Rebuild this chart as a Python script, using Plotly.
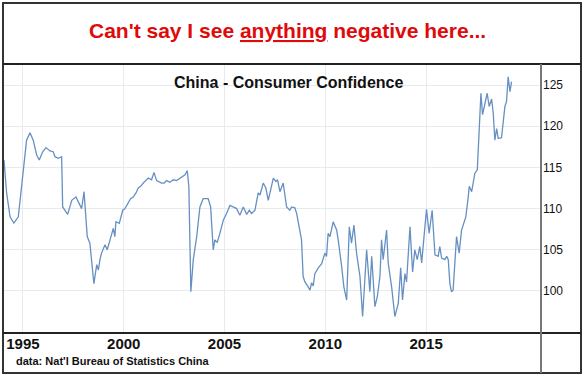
import plotly.graph_objects as go

# ---- data ----
years = [
    1994.06, 1994.19, 1994.36, 1994.55, 1994.77, 1995.01, 1995.18, 1995.35, 1995.51, 1995.68,
    1995.81, 1995.98, 1996.14, 1996.34, 1996.50, 1996.59, 1996.75, 1996.92, 1996.97, 1997.22,
    1997.42, 1997.63, 1997.91, 1998.03, 1998.19, 1998.32, 1998.52, 1998.66, 1998.74, 1998.82,
    1998.90, 1999.07, 1999.18, 1999.32, 1999.48, 1999.56, 1999.61, 1999.78, 1999.95, 2000.06,
    2000.22, 2000.34, 2000.47, 2000.61, 2000.72, 2000.84, 2000.97, 2001.10, 2001.22, 2001.38,
    2001.50, 2001.63, 2001.76, 2001.88, 2002.00, 2002.13, 2002.29, 2002.46, 2002.62, 2002.79,
    2003.04, 2003.15, 2003.23, 2003.33, 2003.45, 2003.62, 2003.78, 2003.94, 2004.19, 2004.31,
    2004.44, 2004.52, 2004.64, 2004.77, 2004.94, 2005.10, 2005.27, 2005.43, 2005.60, 2005.76,
    2005.93, 2006.10, 2006.23, 2006.34, 2006.51, 2006.67, 2006.76, 2006.92, 2007.05, 2007.17,
    2007.29, 2007.42, 2007.55, 2007.63, 2007.75, 2007.91, 2008.08, 2008.24, 2008.33, 2008.49,
    2008.58, 2008.74, 2008.82, 2008.90, 2008.99, 2009.15, 2009.24, 2009.32, 2009.40, 2009.48,
    2009.65, 2009.82, 2009.98, 2010.06, 2010.14, 2010.23, 2010.39, 2010.56, 2010.64, 2010.81,
    2010.92, 2011.06, 2011.19, 2011.30, 2011.42, 2011.55, 2011.72, 2011.85, 2011.96, 2012.05,
    2012.21, 2012.30, 2012.46, 2012.58, 2012.71, 2012.79, 2012.87, 2013.04, 2013.12, 2013.29,
    2013.45, 2013.62, 2013.74, 2013.83, 2013.95, 2014.03, 2014.20, 2014.33, 2014.44, 2014.56,
    2014.69, 2014.78, 2014.86, 2015.02, 2015.15, 2015.30, 2015.44, 2015.60, 2015.68, 2015.77,
    2015.93, 2016.02, 2016.10, 2016.18, 2016.26, 2016.34, 2016.51, 2016.64, 2016.76, 2016.92,
    2016.97, 2017.09, 2017.14, 2017.26, 2017.34, 2017.42, 2017.54, 2017.59, 2017.67, 2017.72,
    2017.80, 2017.92, 2018.03, 2018.13, 2018.25, 2018.33, 2018.41, 2018.50, 2018.58, 2018.74,
    2018.82, 2018.91, 2018.99, 2019.07, 2019.16, 2019.24,
]
confidence = [
    115.9, 111.9, 109.0, 108.25, 109.0, 114.7, 118.3, 119.2, 118.3, 116.5,
    115.9, 116.9, 117.4, 117.0, 116.9, 116.3, 116.1, 116.3, 110.2, 109.3,
    111.0, 111.4, 110.0, 112.05, 106.6, 105.8, 100.9, 103.2, 102.55, 103.8,
    104.6, 105.6, 105.0, 106.2, 107.6, 106.6, 108.4, 108.2, 109.8, 110.0,
    110.6, 111.2, 111.4, 111.9, 112.5, 112.7, 113.1, 113.4, 113.7, 113.5,
    114.4, 113.4, 113.2, 113.1, 113.1, 113.4, 113.2, 113.5, 113.4, 113.7,
    114.1, 114.6, 112.7, 99.9, 103.8, 106.6, 110.2, 111.2, 111.2, 110.2,
    105.0, 106.2, 105.9, 107.0, 108.6, 109.4, 110.4, 110.2, 110.0, 109.2,
    110.2, 109.3, 109.8, 109.4, 109.8, 111.9, 111.65, 113.1, 112.5, 111.0,
    112.2, 113.7, 113.3, 113.5, 112.05, 113.1, 110.2, 109.8, 110.2, 110.1,
    109.4, 107.0, 106.2, 101.75, 101.1, 100.5, 100.1, 101.0, 100.6, 102.1,
    102.8, 103.3, 104.6, 104.2, 107.0, 106.6, 108.4, 107.4, 106.2, 103.0,
    100.5, 98.9, 107.8, 105.8, 108.0, 104.6, 101.75, 96.9, 100.9, 105.0,
    99.9, 104.2, 98.1, 99.3, 101.75, 106.2, 103.8, 107.4, 103.4, 100.5,
    96.9, 98.5, 102.8, 98.9, 102.1, 101.1, 107.8, 102.3, 105.0, 103.8,
    105.4, 103.4, 105.6, 109.9, 107.0, 109.8, 104.4, 104.2, 105.4, 104.0,
    103.8, 104.2, 103.8, 100.9, 99.9, 100.1, 106.6, 104.6, 107.4, 108.6,
    109.0, 111.4, 112.7, 112.05, 113.5, 114.3, 114.7, 117.9, 122.4, 124.0,
    121.4, 122.6, 124.0, 122.4, 123.3, 121.6, 118.3, 119.7, 118.5, 118.6,
    120.8, 122.4, 123.0, 126.0, 124.2, 125.4,
]
x_ticks = [1995, 2000, 2005, 2010, 2015]
x_tick_labels = ["1995", "2000", "2005", "2010", "2015"]
y_ticks = [100, 105, 110, 115, 120, 125]
y_tick_labels = ["100", "105", "110", "115", "120", "125"]

headline = "Can't say I see <u>anything</u> negative here..."
chart_title = "China - Consumer Confidence"
source = "data: Nat'l Bureau of Statistics China"

# ---- layout geometry (pixels) ----
W, H = 585, 376
L, R, T, B = 4, 44, 64, 43
PW, PH = W - L - R, H - T - B


def xp(px):
    return (px - L) / PW


def yp(py):
    return (H - B - py) / PH


FONT = "Arial, Liberation Sans, sans-serif"

fig = go.Figure()
fig.add_trace(go.Scatter(
    x=years, y=confidence, mode="lines",
    line=dict(color="#6690c2", width=1.3),
    showlegend=False, hoverinfo="skip",
))

grid = "#e7ebef"
fig.update_layout(
    width=W, height=H, autosize=False,
    margin=dict(l=L, r=R, t=T, b=B, pad=0),
    paper_bgcolor="white", plot_bgcolor="white",
    font=dict(family=FONT, color="#111"),
    xaxis=dict(
        range=[1994.06, 2020.7], tickvals=x_ticks, ticktext=x_tick_labels,
        tickfont=dict(family=FONT, size=15, color="#111", weight="bold"),
        showgrid=True, gridcolor=grid, gridwidth=1, zeroline=False,
        showline=False, ticks="", fixedrange=True,
    ),
    yaxis=dict(
        range=[94.9, 127.55], tickvals=y_ticks, ticktext=y_tick_labels, side="right",
        tickfont=dict(family=FONT, size=12, color="#111"),
        showgrid=True, gridcolor=grid, gridwidth=1, zeroline=False,
        showline=False, ticks="", ticklabelstandoff=1, fixedrange=True,
    ),
    shapes=[
        # outer frame
        dict(type="rect", xref="paper", yref="paper",
             x0=xp(3), x1=xp(581), y0=yp(373), y1=yp(3),
             line=dict(color="#333", width=2), layer="above"),
        # separator below headline
        dict(type="line", xref="paper", yref="paper",
             x0=xp(3), x1=xp(581), y0=yp(64), y1=yp(64),
             line=dict(color="#222", width=2), layer="above"),
        # x-axis baseline
        dict(type="line", xref="paper", yref="paper",
             x0=xp(3), x1=xp(581), y0=yp(333), y1=yp(333),
             line=dict(color="#222", width=2), layer="above"),
        # right axis divider
        dict(type="line", xref="paper", yref="paper",
             x0=xp(541), x1=xp(541), y0=yp(373), y1=yp(64),
             line=dict(color="#777", width=2), layer="above"),
    ],
    annotations=[
        dict(text=headline, xref="paper", yref="paper", x=xp(287), y=yp(31),
             xanchor="center", yanchor="middle", showarrow=False,
             font=dict(family=FONT, size=21, color="#e00a0a", weight="bold")),
        dict(text=chart_title, xref="paper", yref="paper", x=xp(288), y=yp(82),
             xanchor="center", yanchor="middle", showarrow=False,
             font=dict(family=FONT, size=16, color="#111", weight="bold")),
        dict(text=source, xref="paper", yref="paper", x=xp(14), y=yp(361),
             xanchor="left", yanchor="middle", showarrow=False,
             font=dict(family=FONT, size=11, color="#111", weight="bold")),
    ],
)

fig.write_html(
    "out.html",
    config={"displayModeBar": False, "staticPlot": True},
    post_script="document.body.style.margin='0';document.body.style.padding='0';",
)
